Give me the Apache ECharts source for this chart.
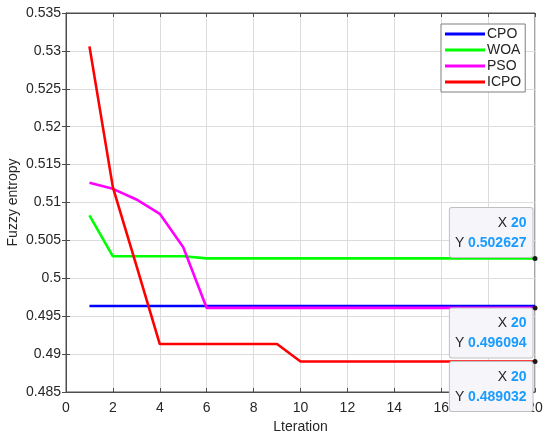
<!DOCTYPE html>
<html><head><meta charset="utf-8">
<script src="https://cdn.jsdelivr.net/npm/echarts@6/dist/echarts.min.js"></script>
<style>html,body{margin:0;padding:0;background:#fff}#c{width:550px;height:440px}</style>
</head><body><div id="c"></div>
<script>
const iterations = [1,2,3,4,5,6,7,8,9,10,11,12,13,14,15,16,17,18,19,20];
const cpo  = [0.49635,0.49635,0.49635,0.49635,0.49635,0.49635,0.49635,0.49635,0.49635,0.49635,0.49635,0.49635,0.49635,0.49635,0.49635,0.49635,0.49635,0.49635,0.49635,0.49635];
const woa  = [0.5083,0.5029,0.5029,0.5029,0.5029,0.502627,0.502627,0.502627,0.502627,0.502627,0.502627,0.502627,0.502627,0.502627,0.502627,0.502627,0.502627,0.502627,0.502627,0.502627];
const pso  = [0.5126,0.5118,0.5104,0.5085,0.5041,0.496094,0.496094,0.496094,0.496094,0.496094,0.496094,0.496094,0.496094,0.496094,0.496094,0.496094,0.496094,0.496094,0.496094,0.496094];
const icpo = [0.5306,0.5120,0.5017,0.49133,0.49133,0.49133,0.49133,0.49133,0.49133,0.489032,0.489032,0.489032,0.489032,0.489032,0.489032,0.489032,0.489032,0.489032,0.489032,0.489032];
const seriesNames = ['CPO','WOA','PSO','ICPO'];
const seriesColors = ['#0000ff','#00ff00','#ff00ff','#ff0000'];
const tips = [
  {name:'WOA', x:20, y:0.502627, place:'above'},
  {name:'PSO', x:20, y:0.496094, place:'below'},
  {name:'ICPO', x:20, y:0.489032, place:'below'}
];

const chart = echarts.init(document.getElementById('c'), null, {renderer:'canvas'});
const font = 'Liberation Sans, Arial, Helvetica, sans-serif';
const dataSets = [cpo, woa, pso, icpo];

function tipFor(name){
  const t = tips.find(d => d.name === name);
  if(!t) return undefined;
  const above = t.place === 'above';
  return {
    symbol:'circle', symbolSize:5, z:10,
    itemStyle:{color:'#1a1a1a'},
    data:[{coord:[t.x, t.y], value:t.y}],
    label:{
      show:true,
      position: above ? [0, 1] : [0, 3],
      align:'right',
      verticalAlign: above ? 'bottom' : 'top',
      backgroundColor:'#f5f5fa',
      borderColor:'#c0c0c0',
      borderWidth:1,
      borderRadius:2,
      padding:[5,6,4,5],
      lineHeight:20,
      formatter: () => '{k|X }{v|' + t.x + '}\n{k|Y }{v|' + t.y + '}',
      rich:{
        k:{color:'#262626', fontSize:14, fontFamily:font, align:'right'},
        v:{color:'#1a9bff', fontSize:14, fontWeight:'bold', fontFamily:font, align:'right'}
      }
    }
  };
}

const series = seriesNames.map((n,i) => ({
  name:n, type:'line',
  data: iterations.map((x,j) => [x, dataSets[i][j]]),
  showSymbol:false, symbol:'none', clip:false,
  lineStyle:{color:seriesColors[i], width:2.6},
  itemStyle:{color:seriesColors[i]},
  markPoint: tipFor(n)
}));

chart.setOption({
  animation:false,
  textStyle:{fontFamily:font},
  grid:{left:66, right:15, top:13, bottom:48, show:true, borderColor:'#4d4d4d', borderWidth:1,
        containLabel:false, outerBoundsMode:'none'},
  legend:{
    orient:'vertical', left:441, top:24,
    data:seriesNames,
    icon:'rect', itemWidth:40, itemHeight:3, itemGap:2,
    padding:[3,4,3,4],
    backgroundColor:'#ffffff', borderColor:'#7f7f7f', borderWidth:1,
    textStyle:{color:'#262626', fontSize:14, fontFamily:font, padding:[0,0,0,-3]}
  },
  xAxis:[{
    type:'value', min:0, max:20, interval:2,
    name:'Lteration', nameLocation:'middle', nameGap:27,
    nameTextStyle:{color:'#262626', fontSize:14, fontFamily:font},
    axisLine:{show:true, lineStyle:{color:'#4d4d4d'}},
    axisTick:{show:true, inside:true, length:4, lineStyle:{color:'#4d4d4d'}},
    axisLabel:{color:'#262626', fontSize:14, margin:9, fontFamily:font},
    splitLine:{show:true, lineStyle:{color:'#dcdcdc'}}
  },{
    type:'value', min:0, max:20, interval:2, position:'top',
    axisLine:{show:true, lineStyle:{color:'#4d4d4d'}},
    axisTick:{show:true, inside:true, length:4, lineStyle:{color:'#4d4d4d'}},
    axisLabel:{show:false}, splitLine:{show:false}
  }],
  yAxis:[{
    type:'value', min:0.485, max:0.535, interval:0.005,
    name:'Fuzzy entropy', nameLocation:'middle', nameGap:46, nameRotate:90, nameMoveOverlap:false,
    nameTextStyle:{color:'#262626', fontSize:14, fontFamily:font},
    axisLine:{show:true, lineStyle:{color:'#4d4d4d'}},
    axisTick:{show:true, inside:true, length:4, lineStyle:{color:'#4d4d4d'}},
    axisLabel:{color:'#262626', fontSize:14, margin:5, fontFamily:font,
      formatter: v => String(parseFloat(v.toFixed(3)))},
    splitLine:{show:true, lineStyle:{color:'#dcdcdc'}}
  },{
    type:'value', min:0.485, max:0.535, interval:0.005, position:'right',
    axisLine:{show:true, lineStyle:{color:'#4d4d4d'}},
    axisTick:{show:true, inside:true, length:4, lineStyle:{color:'#4d4d4d'}},
    axisLabel:{show:false}, splitLine:{show:false}
  }],
  series: series
});
</script>
</body></html>
